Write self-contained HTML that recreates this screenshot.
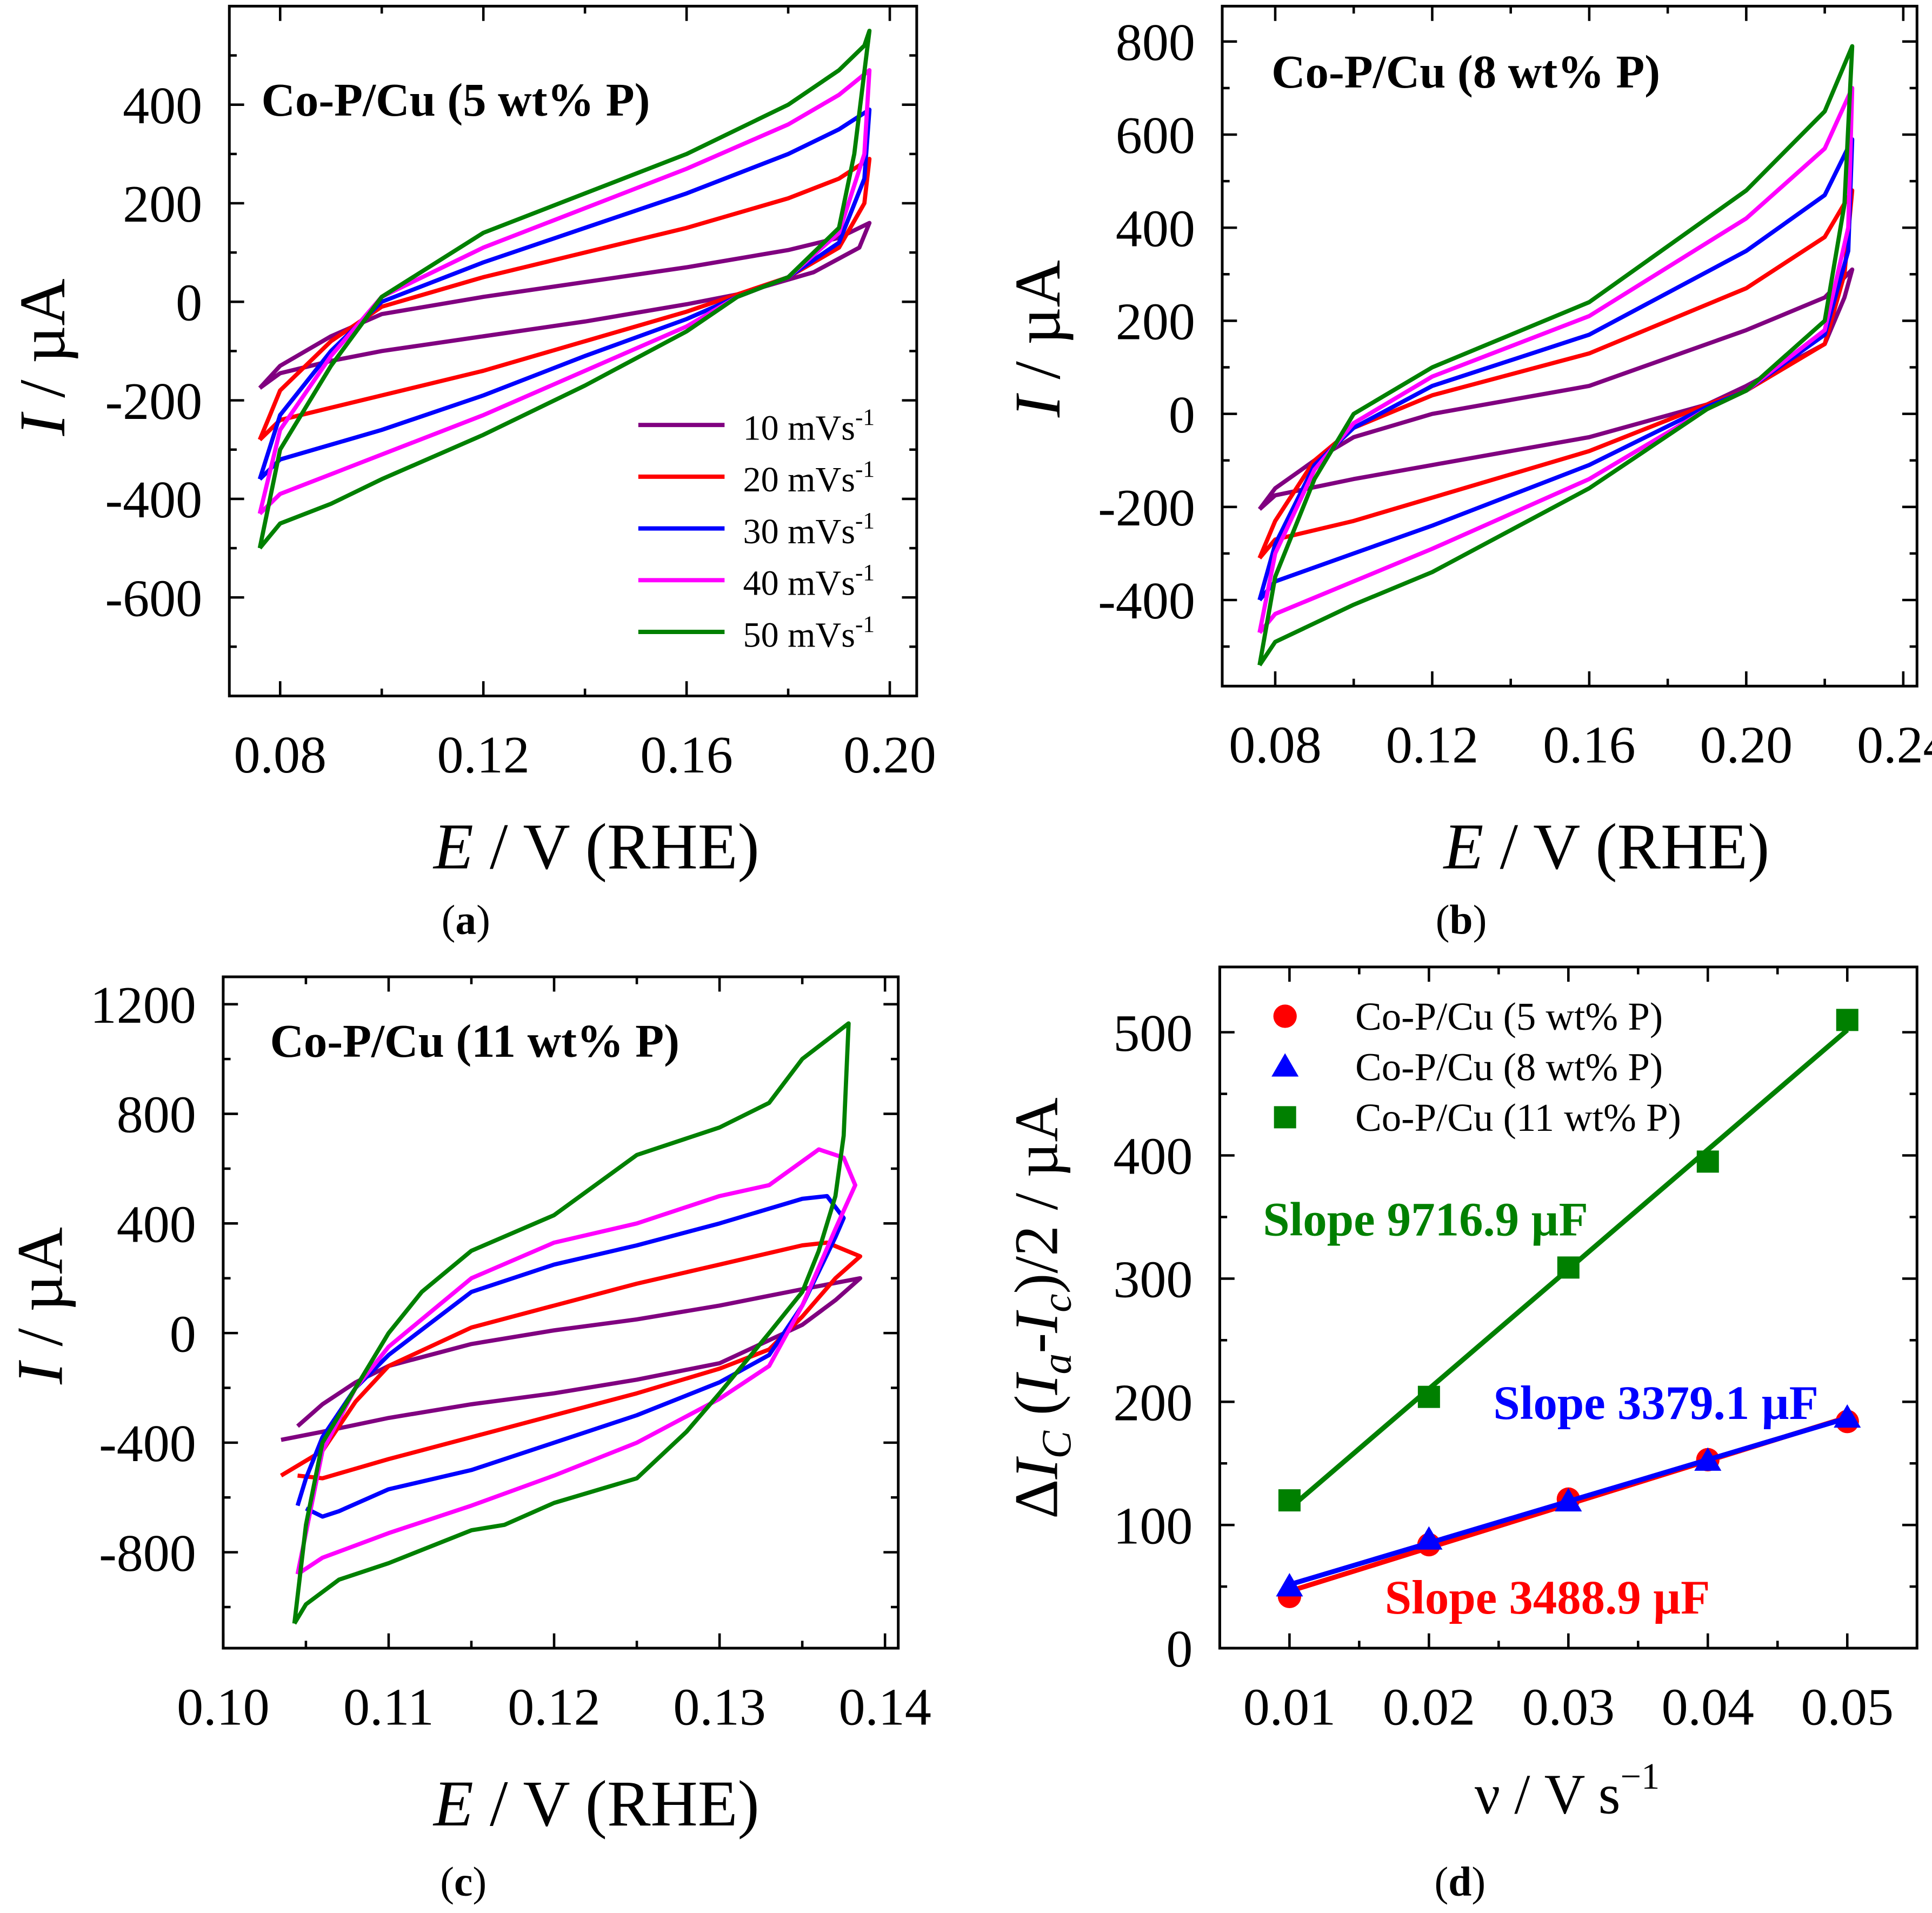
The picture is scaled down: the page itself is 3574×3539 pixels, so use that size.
<!DOCTYPE html>
<html><head><meta charset="utf-8"><style>
html,body{margin:0;padding:0;background:#fff;}
svg{display:block;}
text{font-family:"Liberation Serif",serif;}
</style></head><body>
<svg id="fig" width="3574" height="3539" viewBox="0 0 1568 1553" xmlns="http://www.w3.org/2000/svg"></svg>
<script>
// ---- Panel (a) data: CV loops (E in V, I in µA)
const aLabels=["10 mVs","20 mVs","30 mVs","40 mVs","50 mVs"];
const a10E=[0.076,0.08,0.09,0.10,0.12,0.14,0.16,0.18,0.19,0.196,0.194,0.185,0.17,0.16,0.14,0.12,0.10,0.09,0.08,0.076];
const a10I=[-175,-130,-70,-25,10,40,70,105,130,160,110,60,15,-5,-40,-70,-100,-120,-145,-175];
const a20E=[0.076,0.078,0.08,0.09,0.10,0.12,0.14,0.16,0.18,0.19,0.196,0.195,0.19,0.18,0.17,0.16,0.14,0.12,0.10,0.09,0.08,0.076];
const a20I=[-280,-230,-180,-80,-10,50,100,150,210,250,290,200,110,50,15,-20,-80,-140,-190,-215,-240,-280];
const a30E=[0.076,0.08,0.09,0.10,0.12,0.14,0.16,0.18,0.19,0.196,0.195,0.19,0.18,0.17,0.16,0.14,0.12,0.10,0.09,0.08,0.076];
const a30I=[-360,-230,-100,0,80,150,220,300,350,390,250,120,50,10,-35,-110,-190,-260,-290,-320,-360];
const a40E=[0.076,0.08,0.09,0.10,0.12,0.14,0.16,0.18,0.19,0.196,0.195,0.19,0.18,0.17,0.16,0.14,0.12,0.10,0.09,0.08,0.076];
const a40I=[-430,-260,-110,10,110,190,270,360,420,470,300,140,50,10,-50,-140,-230,-310,-350,-390,-430];
const a50E=[0.076,0.08,0.09,0.10,0.12,0.14,0.16,0.18,0.19,0.195,0.196,0.193,0.19,0.18,0.17,0.16,0.14,0.12,0.10,0.09,0.08,0.076];
const a50I=[-500,-300,-130,10,140,220,300,400,470,520,550,300,150,50,10,-60,-170,-270,-360,-410,-450,-500];
// ---- Panel (b)
const b10E=[0.076,0.08,0.09,0.10,0.12,0.16,0.20,0.22,0.227,0.225,0.22,0.20,0.19,0.16,0.12,0.10,0.08,0.076];
const b10I=[-205,-160,-100,-50,0,60,180,250,310,250,150,60,20,-50,-110,-140,-175,-205];
const b20E=[0.076,0.08,0.09,0.10,0.12,0.16,0.20,0.22,0.227,0.225,0.22,0.20,0.19,0.16,0.12,0.10,0.08,0.076];
const b20I=[-310,-230,-100,-30,40,130,270,380,480,300,150,50,20,-80,-180,-230,-270,-310];
const b30E=[0.076,0.08,0.09,0.10,0.12,0.16,0.20,0.22,0.227,0.226,0.22,0.20,0.19,0.16,0.12,0.10,0.08,0.076];
const b30I=[-400,-280,-110,-30,60,170,350,470,590,350,170,50,15,-110,-240,-300,-360,-400];
const b40E=[0.076,0.08,0.09,0.10,0.12,0.16,0.20,0.22,0.227,0.226,0.22,0.20,0.19,0.16,0.12,0.10,0.08,0.076];
const b40I=[-470,-300,-120,-20,80,210,420,570,700,400,180,50,10,-140,-290,-360,-430,-470];
const b50E=[0.076,0.08,0.09,0.10,0.12,0.16,0.20,0.22,0.227,0.225,0.22,0.20,0.19,0.16,0.12,0.10,0.08,0.076];
const b50I=[-540,-350,-140,0,100,240,480,650,790,450,200,50,10,-160,-340,-410,-490,-540];
// ---- Panel (c)
const c10E=[0.1045,0.106,0.108,0.11,0.115,0.12,0.125,0.13,0.135,0.1385,0.137,0.135,0.13,0.125,0.12,0.115,0.11,0.106,0.1035];
const c10I=[-340,-260,-180,-120,-40,10,50,100,160,200,120,30,-110,-170,-220,-260,-310,-360,-390];
const c20E=[0.1035,0.106,0.108,0.11,0.115,0.12,0.125,0.13,0.135,0.1365,0.1385,0.137,0.135,0.133,0.13,0.125,0.12,0.115,0.11,0.106,0.1045];
const c20I=[-520,-430,-250,-120,20,100,180,250,320,330,280,200,60,-60,-130,-220,-300,-380,-460,-530,-520];
const c30E=[0.1045,0.105,0.106,0.108,0.11,0.115,0.12,0.125,0.13,0.135,0.1365,0.1375,0.137,0.135,0.133,0.13,0.125,0.12,0.115,0.11,0.107,0.106,0.105];
const c30I=[-630,-530,-380,-200,-80,150,250,320,400,490,500,420,350,100,-80,-180,-300,-400,-500,-570,-650,-670,-640];
const c40E=[0.1045,0.106,0.108,0.11,0.115,0.12,0.125,0.13,0.133,0.136,0.1375,0.1382,0.137,0.135,0.133,0.13,0.125,0.12,0.115,0.11,0.106,0.1045];
const c40I=[-880,-430,-200,-50,200,330,400,500,540,670,640,540,380,100,-120,-240,-400,-520,-630,-730,-820,-880];
const c50E=[0.1043,0.105,0.106,0.108,0.11,0.112,0.115,0.12,0.125,0.13,0.133,0.135,0.1378,0.1375,0.137,0.136,0.135,0.133,0.13,0.128,0.125,0.12,0.117,0.115,0.11,0.107,0.105,0.1043];
const c50I=[-1060,-700,-400,-200,0,150,300,430,650,750,840,1000,1130,720,500,300,150,0,-220,-360,-530,-620,-700,-720,-840,-900,-990,-1060];
// ---- Panel (d)
const dScan=[0.01,0.02,0.03,0.04,0.05];
const d5=[42,84,121,153,184];
const d8=[50,88,119,152,187];
const d11=[120,204,309,395,510];
const dLegend=["Co-P/Cu (5 wt% P)","Co-P/Cu (8 wt% P)","Co-P/Cu (11 wt% P)"];

const NS="http://www.w3.org/2000/svg";
const svg=document.getElementById('fig');
function el(tag,attrs,parent){const e=document.createElementNS(NS,tag);for(const k in attrs)e.setAttribute(k,attrs[k]);(parent||svg).appendChild(e);return e;}
function txt(s,attrs,parent){const t=el('text',attrs,parent);t.textContent=s;return t;}
const COLORS=["#800080","#ff0000","#0000ff","#ff00ff","#008000"];
const TF=43;

function axes(P,name,xt,xl,yt,yl,xminor,yminor){
  const g=el('g',{});
  
  
  const sx=v=>P.x0+(v-P.xmin)/(P.xmax-P.xmin)*(P.x1-P.x0);
  const sy=v=>P.y1-(v-P.ymin)/(P.ymax-P.ymin)*(P.y1-P.y0);
  el('rect',{x:P.x0,y:P.y0,width:P.x1-P.x0,height:P.y1-P.y0,fill:'none',stroke:'#000','stroke-width':2.2},g);
  xt.forEach((v,i)=>{const x=sx(v);
    el('line',{x1:x,y1:P.y1,x2:x,y2:P.y1-12,stroke:'#000','stroke-width':2},g);
    el('line',{x1:x,y1:P.y0,x2:x,y2:P.y0+12,stroke:'#000','stroke-width':2},g);
    const t=txt(xl[i],{x:x,y:P.y1+62,'font-size':TF,'text-anchor':'middle'},g);
    });
  xminor.forEach(v=>{const x=sx(v);el('line',{x1:x,y1:P.y1,x2:x,y2:P.y1-6,stroke:'#000','stroke-width':2},g);el('line',{x1:x,y1:P.y0,x2:x,y2:P.y0+6,stroke:'#000','stroke-width':2},g);});
  yt.forEach((v,i)=>{const y=sy(v);
    el('line',{x1:P.x0,y1:y,x2:P.x0+12,y2:y,stroke:'#000','stroke-width':2},g);
    el('line',{x1:P.x1,y1:y,x2:P.x1-12,y2:y,stroke:'#000','stroke-width':2},g);
    const t=txt(yl[i],{x:P.x0-22,y:y+15,'font-size':TF,'text-anchor':'end'},g);
    });
  yminor.forEach(v=>{const y=sy(v);el('line',{x1:P.x0,y1:y,x2:P.x0+6,y2:y,stroke:'#000','stroke-width':2},g);el('line',{x1:P.x1,y1:y,x2:P.x1-6,y2:y,stroke:'#000','stroke-width':2},g);});
  return {sx,sy};
}
function loop(S,E,I,color,name){
  const d=E.map((e,i)=>(i?'L':'M')+S.sx(e).toFixed(1)+' '+S.sy(I[i]).toFixed(1)).join(' ');
  const p=el('path',{d:d,fill:'none',stroke:color,'stroke-width':3.4,'stroke-linejoin':'round'});
  
  
}
function xtitle(x,y){const t=el('text',{x:x,y:y,'font-size':53,'text-anchor':'middle'});
  t.innerHTML='<tspan font-style="italic">E</tspan> / V (RHE)';
  }
function ytitle(x,y){const t=el('text',{x:0,y:0,'font-size':53,'text-anchor':'middle',transform:`translate(${x},${y}) rotate(-90)`});
  t.innerHTML='<tspan font-style="italic">I</tspan> / µA';
  }
function panelLabel(s,x,y){const t=el('text',{x:x,y:y,'font-size':34,'text-anchor':'middle'});
  t.innerHTML='(<tspan font-weight="bold">'+s+'</tspan>)';
  }
function title(s,x,y,name){const t=txt(s,{x:x,y:y,'font-size':38,'font-weight':'bold'});
  }

// Panel a
const Sa=axes({x0:186,x1:744,y0:5,y1:565,xmin:0.07,xmax:0.2053,ymin:-800,ymax:600},'panel-a-axes',
 [0.08,0.12,0.16,0.20],["0.08","0.12","0.16","0.20"],[-600,-400,-200,0,200,400],["-600","-400","-200","0","200","400"],
 [0.10,0.14,0.18],[-700,-500,-300,-100,100,300,500]);
[[a10E,a10I],[a20E,a20I],[a30E,a30I],[a40E,a40I],[a50E,a50I]].forEach((s,i)=>loop(Sa,s[0],s[1],COLORS[i],'cv-a-'+(i+1)*10));
title("Co-P/Cu (5 wt% P)",212,94,'panel-a-title');
aLabels.forEach((l,i)=>{const y=345+i*42;
  const g=el('g',{});
  
  
  el('line',{x1:518,y1:y,x2:588,y2:y,stroke:COLORS[i],'stroke-width':3.5},g);
  const t=el('text',{x:603,y:y+12,'font-size':29},g);t.innerHTML=l+'<tspan dy="-12" font-size="19">-1</tspan>';});
xtitle(484,705);ytitle(52,290);panelLabel('a',378,758);

// Panel b
const Sb=axes({x0:992,x1:1556,y0:5,y1:557,xmin:0.0665,xmax:0.2435,ymin:-585,ymax:876},'panel-b-axes',
 [0.08,0.12,0.16,0.20,0.24],["0.08","0.12","0.16","0.20","0.24"],[-400,-200,0,200,400,600,800],["-400","-200","0","200","400","600","800"],
 [0.10,0.14,0.18,0.22],[-500,-300,-100,100,300,500,700]);
[[b10E,b10I],[b20E,b20I],[b30E,b30I],[b40E,b40I],[b50E,b50I]].forEach((s,i)=>loop(Sb,s[0],s[1],COLORS[i],'cv-b-'+(i+1)*10));
title("Co-P/Cu (8 wt% P)",1032,71,'panel-b-title');
xtitle(1304,705);ytitle(860,275);panelLabel('b',1186,758);

// Panel c
const Sc=axes({x0:181,x1:729,y0:793,y1:1338,xmin:0.1,xmax:0.1408,ymin:-1150,ymax:1300},'panel-c-axes',
 [0.10,0.11,0.12,0.13,0.14],["0.10","0.11","0.12","0.13","0.14"],[-800,-400,0,400,800,1200],["-800","-400","0","400","800","1200"],
 [0.105,0.115,0.125,0.135],[-1000,-600,-200,200,600,1000]);
[[c10E,c10I],[c20E,c20I],[c30E,c30I],[c40E,c40I],[c50E,c50I]].forEach((s,i)=>loop(Sc,s[0],s[1],COLORS[i],'cv-c-'+(i+1)*10));
title("Co-P/Cu (11 wt% P)",219,858,'panel-c-title');
xtitle(484,1482);ytitle(50,1060);panelLabel('c',376,1539);

// Panel d
const Sd=axes({x0:990,x1:1556,y0:785,y1:1338,xmin:0.005,xmax:0.055,ymin:0,ymax:553},'panel-d-axes',
 dScan,["0.01","0.02","0.03","0.04","0.05"],[0,100,200,300,400,500],["0","100","200","300","400","500"],
 [0.015,0.025,0.035,0.045],[50,150,250,350,450]);
function fit(x,y){const n=x.length,mx=x.reduce((a,b)=>a+b)/n,my=y.reduce((a,b)=>a+b)/n;
  let sxy=0,sxx=0;x.forEach((v,i)=>{sxy+=(v-mx)*(y[i]-my);sxx+=(v-mx)*(v-mx);});const m=sxy/sxx;return [m,my-m*mx];}
const dSeries=[[d5,"#ff0000","circle"],[d8,"#0000ff","tri"],[d11,"#008000","square"]];
function marker(kind,x,y,c,g){
  if(kind==='circle')return el('circle',{cx:x,cy:y,r:9.5,fill:c},g);
  if(kind==='tri')return el('polygon',{points:`${x},${y-11} ${x-11},${y+8} ${x+11},${y+8}`,fill:c},g);
  return el('rect',{x:x-9,y:y-9,width:18,height:18,fill:c},g);
}
[0,2,1].forEach(k=>{const [vals,c,kind]=dSeries[k];const [m,b]=fit(dScan,vals);
  const ln=el('line',{x1:Sd.sx(dScan[0]),y1:Sd.sy(m*dScan[0]+b),x2:Sd.sx(dScan[4]),y2:Sd.sy(m*dScan[4]+b),stroke:c,'stroke-width':4});
  
  vals.forEach((v,i)=>{const mk=marker(kind,Sd.sx(dScan[i]),Sd.sy(v),c);
    });});
dLegend.forEach((l,i)=>{const y=825+i*41;const g=el('g',{});
  
  
  marker(dSeries[i][2],1043,y,dSeries[i][1],g);txt(l,{x:1100,y:y+11,'font-size':32},g);});
[["Slope 9716.9 µF",1025,1003,"#008000"],["Slope 3379.1 µF",1212,1152,"#0000ff"],["Slope 3488.9 µF",1124,1310,"#ff0000"]].forEach(s=>{
  const t=txt(s[0],{x:s[1],y:s[2],'font-size':39,'font-weight':'bold',fill:s[3]});
  });
{const t=el('text',{x:0,y:0,'font-size':50,'text-anchor':'middle',transform:'translate(858,1062) rotate(-90)'});
 t.innerHTML='Δ<tspan font-style="italic">I</tspan><tspan dy="11" font-size="34" font-style="italic">C</tspan><tspan dy="-11"> (</tspan><tspan font-style="italic">I</tspan><tspan dy="11" font-size="34" font-style="italic">a</tspan><tspan dy="-11">-</tspan><tspan font-style="italic">I</tspan><tspan dy="11" font-size="34" font-style="italic">c</tspan><tspan dy="-11">)/2 / µA</tspan>';
 }
{const t=el('text',{x:1272,y:1472,'font-size':46,'text-anchor':'middle'});
 t.innerHTML='ν / V s<tspan dy="-20" font-size="30">−1</tspan>';
 }
panelLabel('d',1185,1539);
</script>
</body></html>
